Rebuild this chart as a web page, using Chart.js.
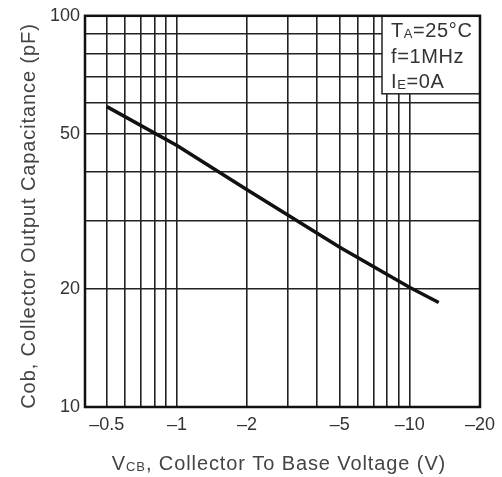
<!DOCTYPE html>
<html lang="en">
<head>
    <meta charset="UTF-8">
    <title>Cob vs VCB</title>
    <style>
        body {
            margin: 0;
            background-color: #ffffff;
        }
        #wrap {
            position: relative;
            width: 502px;
            height: 477px;
        }
    </style>
</head>
<body>
    <div id="wrap"><canvas id="capChart" width="502" height="477"></canvas></div>

    <script src="https://cdn.jsdelivr.net/npm/chart.js"></script>
    <script>
        // curve
        const vcbValues = [-0.5, -1, -2, -5, -10, -13.3];
        const cobValues = [58.6, 46.6, 35.9, 25.6, 20.2, 18.5];

        // ticks / grid
        const xGridValues = [0.5, 0.6, 0.7, 0.8, 0.9, 1, 2, 3, 4, 5, 6, 7, 8, 9, 10, 20];
        const xLabelValues = [0.5, 1, 2, 5, 10, 20];
        const yGridValues = [10, 20, 30, 40, 50, 60, 70, 80, 90, 100];
        const yLabelValues = [10, 20, 50, 100];

        const noteLines = [
            ['T', 'A', '=25°C'],
            ['f=1MHz', '', ''],
            ['I', 'E', '=0A']
        ];

        const font = '"Liberation Sans", Arial, sans-serif';
        const textColor = '#333';

        // draws a string with an optional subscript piece
        const drawSub = (ctx, x, y, main, sub, rest, size) => {
            ctx.font = size + 'px ' + font;
            ctx.fillText(main, x, y);
            x += ctx.measureText(main).width;
            if (sub) {
                ctx.font = Math.round(size * 0.65) + 'px ' + font;
                ctx.fillText(sub, x, y + 3);
                x += ctx.measureText(sub).width;
            }
            ctx.font = size + 'px ' + font;
            ctx.fillText(rest, x, y);
        };

        const framePlugin = {
            id: 'frame',
            afterDatasetsDraw(chart) {
                const ctx = chart.ctx;
                const a = chart.chartArea;
                ctx.save();

                // conditions box
                const bx = 382, by = a.top, bw = a.right - 382, bh = 78;
                ctx.fillStyle = '#fff';
                ctx.fillRect(bx, by, bw, bh);
                ctx.strokeStyle = '#222';
                ctx.lineWidth = 1.5;
                ctx.strokeRect(bx, by, bw, bh);
                ctx.fillStyle = textColor;
                ctx.textBaseline = 'middle';
                ctx.textAlign = 'left';
                ctx.letterSpacing = '0.6px';
                noteLines.forEach((l, i) => {
                    drawSub(ctx, 391, by + 16 + i * 25.5, l[0], l[1], l[2], 20);
                });

                // outer frame
                ctx.strokeStyle = '#111';
                ctx.lineWidth = 2.5;
                ctx.strokeRect(a.left, a.top, a.right - a.left, a.bottom - a.top);

                // x title with subscript
                ctx.fillStyle = '#444';
                ctx.letterSpacing = '0.9px';
                const title = ', Collector To Base Voltage (V)';
                ctx.font = '20px ' + font;
                const w1 = ctx.measureText('V').width;
                ctx.font = '13px ' + font;
                const w2 = ctx.measureText('CB').width;
                ctx.font = '20px ' + font;
                const w3 = ctx.measureText(title).width;
                drawSub(ctx, 279 - (w1 + w2 + w3) / 2, 464, 'V', 'CB', title, 20);

                // y title
                ctx.translate(29, 216);
                ctx.rotate(-Math.PI / 2);
                ctx.textAlign = 'center';
                ctx.font = '20px ' + font;
                ctx.fillText('Cob, Collector Output Capacitance (pF)', 0, 0);
                ctx.restore();
            }
        };

        const ctx = document.getElementById('capChart').getContext('2d');
        new Chart(ctx, {
            type: 'line',
            data: {
                datasets: [{
                    data: vcbValues.map((v, i) => ({ x: Math.abs(v), y: cobValues[i] })),
                    borderColor: '#111',
                    borderWidth: 3.5,
                    pointRadius: 0,
                    tension: 0,
                    fill: false
                }]
            },
            options: {
                responsive: false,
                animation: false,
                layout: { padding: { left: 0, right: 19, top: 15, bottom: 0 } },
                plugins: {
                    legend: { display: false },
                    tooltip: { enabled: false }
                },
                scales: {
                    x: {
                        type: 'logarithmic',
                        min: 0.403,
                        max: 20,
                        afterBuildTicks: (s) => { s.ticks = xGridValues.map(v => ({ value: v })); },
                        afterFit: (s) => { s.height = 70; },
                        grid: { color: '#222', lineWidth: 1.6, drawTicks: false },
                        border: { display: false },
                        ticks: {
                            autoSkip: false,
                            maxRotation: 0,
                            padding: 7,
                            color: textColor,
                            font: { family: font, size: 18 },
                            callback: (v) => xLabelValues.includes(v) ? '\u2013' + v : ''
                        }
                    },
                    y: {
                        type: 'logarithmic',
                        min: 10,
                        max: 100,
                        afterBuildTicks: (s) => { s.ticks = yGridValues.map(v => ({ value: v })); },
                        afterFit: (s) => { s.width = 85; },
                        grid: { color: '#222', lineWidth: 1.6, drawTicks: false },
                        border: { display: false },
                        ticks: {
                            autoSkip: false,
                            padding: 5,
                            color: textColor,
                            font: { family: font, size: 18 },
                            callback: (v) => yLabelValues.includes(v) ? String(v) : ''
                        }
                    }
                }
            },
            plugins: [framePlugin]
        });
    </script>
</body>
</html>
